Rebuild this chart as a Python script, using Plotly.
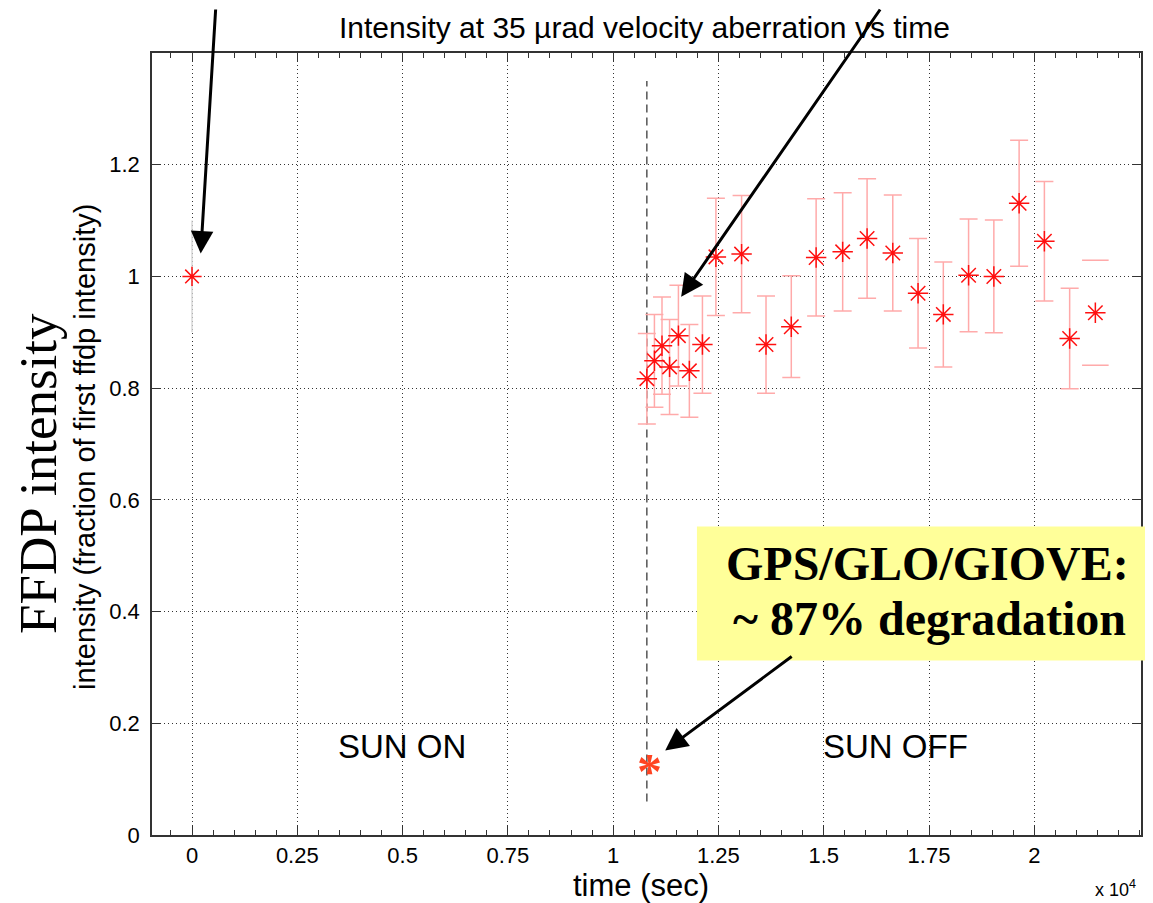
import plotly.graph_objects as go

# ---------------- data ----------------
t_sec = [10800, 10980, 11160, 11340, 11550, 11810, 12120, 12440, 13050, 13630, 14230,
         14820, 15450, 16030, 16640, 17240, 17840, 18440, 19040, 19640, 20240, 20840]
intensity = [0.817, 0.849, 0.876, 0.838, 0.894, 0.831, 0.878, 1.035, 1.040, 0.878, 0.910,
             1.034, 1.044, 1.068, 1.042, 0.970, 0.932, 1.002, 1.000, 1.131, 1.063, 0.889]
err = [0.081, 0.083, 0.087, 0.085, 0.090, 0.083, 0.087, 0.105, 0.105, 0.087, 0.091,
       0.105, 0.106, 0.107, 0.104, 0.098, 0.094, 0.101, 0.101, 0.113, 0.107, 0.090]

t_first = [0]
i_first = [1.0]
err_first = [0.1]

t_last = [21450]
i_last = [0.935]
err_last = [0.094]

t_dark = [10860]
i_dark = [0.125]

sun_off_t = [10800, 10800]
sun_off_y = [0.06, 1.35]

xtick_vals = [0, 2500, 5000, 7500, 10000, 12500, 15000, 17500, 20000]
xtick_text = ["0", "0.25", "0.5", "0.75", "1", "1.25", "1.5", "1.75", "2"]
ytick_vals = [0, 0.2, 0.4, 0.6, 0.8, 1.0, 1.2]
ytick_text = ["0", "0.2", "0.4", "0.6", "0.8", "1", "1.2"]

SANS = "Liberation Sans, Arial, sans-serif"
SERIF = "Liberation Serif, Times New Roman, serif"
STAR_RED = "#ff1010"
BAR_PINK = "#ffaaaa"

fig = go.Figure()

# dashed vertical line (sun off)
fig.add_trace(go.Scatter(x=sun_off_t, y=sun_off_y, mode="lines",
                         line=dict(color="#555555", width=1.5, dash="8px,5px"),
                         hoverinfo="skip", showlegend=False))

star = dict(symbol="asterisk-open", size=17, color=STAR_RED,
            line=dict(color=STAR_RED, width=1.5))

# first point
fig.add_trace(go.Scatter(x=t_first, y=i_first, mode="markers",
                         marker=dict(star, size=16),
                         error_y=dict(type="data", array=err_first, color="#d8d8d8",
                                      thickness=1.5, width=0),
                         showlegend=False))

# main series
fig.add_trace(go.Scatter(x=t_sec, y=intensity, mode="markers",
                         marker=star,
                         error_y=dict(type="data", array=err, color=BAR_PINK,
                                      thickness=1.5, width=9),
                         showlegend=False))

# last point: caps only
fig.add_trace(go.Scatter(x=t_last * 2,
                         y=[i_last[0] + err_last[0], i_last[0] - err_last[0]],
                         mode="markers",
                         marker=dict(symbol="line-ew", size=19, color=BAR_PINK,
                                     line=dict(color=BAR_PINK, width=1.5)),
                         showlegend=False))
fig.add_trace(go.Scatter(x=t_last, y=i_last, mode="markers", marker=star,
                         showlegend=False))

axis_common = dict(
    showline=True, linecolor="#333333", linewidth=1.5, mirror="ticks",
    ticks="inside", ticklen=9, tickwidth=1, tickcolor="#333333",
    showgrid=True, gridcolor="#333333", gridwidth=1, griddash="1px,3px",
    zeroline=False, tickfont=dict(family=SANS, size=22, color="black"),
)

fig.update_xaxes(range=[-950, 22534], tickmode="array", tickvals=xtick_vals,
                 ticktext=xtick_text,
                 minor=dict(tick0=0, dtick=500, ticks="inside", ticklen=5,
                            tickcolor="#333333", showgrid=False),
                 **axis_common)
fig.update_yaxes(range=[0, 1.4], tickmode="array", tickvals=ytick_vals,
                 ticktext=ytick_text, ticklabelstandoff=6, **axis_common)

# yellow box
fig.add_shape(type="rect", xref="paper", yref="paper",
              x0=0.551, x1=1.009, y0=0.2233, y1=0.3946,
              fillcolor="#ffff99", line=dict(width=0), layer="above")

ann = []
ann.append(dict(text="Intensity at 35 \u00b5rad velocity aberration vs time",
                xref="paper", yref="paper", x=0.498, y=1.033,
                xanchor="center", yanchor="middle", showarrow=False,
                font=dict(family=SANS, size=30, color="black")))
ann.append(dict(text="time (sec)", xref="paper", yref="paper", x=0.494, y=-0.065,
                xanchor="center", yanchor="middle", showarrow=False,
                font=dict(family=SANS, size=31, color="black")))
ann.append(dict(text="x 10<sup>4</sup>", xref="paper", yref="paper", x=0.974, y=-0.068,
                xanchor="center", yanchor="middle", showarrow=False,
                font=dict(family=SANS, size=18, color="black")))
ann.append(dict(text="intensity (fraction of first ffdp intensity)",
                xref="paper", yref="paper", x=-0.068, y=0.496, textangle=-90,
                xanchor="center", yanchor="middle", showarrow=False,
                font=dict(family=SANS, size=29, color="black")))
ann.append(dict(text="FFDP intensity", xref="paper", yref="paper", x=-0.116, y=0.462,
                textangle=-90, xanchor="center", yanchor="middle", showarrow=False,
                font=dict(family=SERIF, size=53, color="black")))
ann.append(dict(text="SUN ON", xref="x", yref="y", x=4988, y=0.159,
                xanchor="center", yanchor="middle", showarrow=False,
                font=dict(family=SANS, size=33, color="black")))
ann.append(dict(text="SUN OFF", xref="x", yref="y", x=16698, y=0.159,
                xanchor="center", yanchor="middle", showarrow=False,
                font=dict(family=SANS, size=33, color="black")))
ann.append(dict(text="<b>GPS/GLO/GIOVE:</b>", xref="paper", yref="paper",
                x=0.784, y=0.3475, xanchor="center", yanchor="middle", showarrow=False,
                font=dict(family=SERIF, size=48, color="black")))
ann.append(dict(text="<b>~ 87% degradation</b>", xref="paper", yref="paper",
                x=0.786, y=0.277, xanchor="center", yanchor="middle", showarrow=False,
                font=dict(family=SERIF, size=48, color="black")))

# dark-level point drawn as an orange asterisk glyph
ann.append(dict(text="<b>*</b>", xref="x", yref="y", x=t_dark[0], y=i_dark[0],
                xanchor="center", yanchor="middle", showarrow=False, yshift=-6,
                font=dict(family=SERIF, size=50, color="#ff4422")))

arrow_style = dict(text="", showarrow=True, arrowhead=2, arrowsize=1.5,
                   arrowwidth=3, arrowcolor="black", standoff=0,
                   xref="x", yref="y", axref="pixel", ayref="pixel")
ann.append(dict(x=207, y=1.041, ax=15, ay=-265, **arrow_style))
ann.append(dict(x=11615, y=0.9635, ax=200, ay=-310, **arrow_style))
ann.append(dict(x=11235, y=0.1515, ax=128, ay=-95, **arrow_style))

fig.update_layout(width=1153, height=903,
                  margin=dict(l=144, r=20, t=45, b=76),
                  paper_bgcolor="white", plot_bgcolor="white",
                  showlegend=False, annotations=ann)

fig.write_html("out.html")
